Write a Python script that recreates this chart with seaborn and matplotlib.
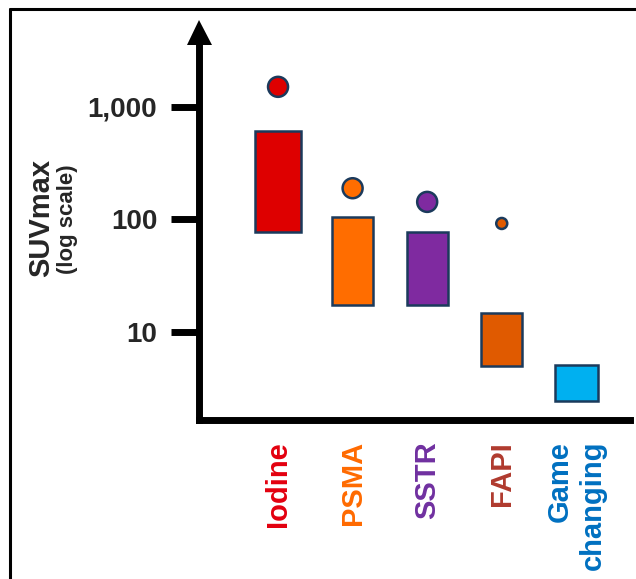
import matplotlib
matplotlib.use("Agg")
import matplotlib.pyplot as plt
from matplotlib.lines import Line2D
import seaborn as sns

# data (SUVmax, log scale)
categories = ["Iodine", "PSMA", "SSTR", "FAPI", "Game\nchanging"]
box_low = [77, 17.4, 17.4, 5.0, 2.46]
box_high = [612, 104, 78, 14.9, 5.1]
dot_categories = ["Iodine", "PSMA", "SSTR", "FAPI"]
dot_values = [1500, 189, 143, 92]
y_ticks = [10, 100, 1000]
y_tick_labels = ["10", "100", "1,000"]

# styles
bar_colors = ["#DE0000", "#FF6D00", "#7F2AA0", "#E05A00", "#00B0F0"]
bar_widths = [0.62, 0.55, 0.55, 0.55, 0.58]
dot_colors = ["#DE0000", "#FF6D00", "#7F2AA0", "#E05A00"]
label_colors = ["#E3000F", "#FF6A00", "#7030A0", "#B03A2E", "#0070C0"]
dot_px = [20, 20, 20, 11]
edge = "#1B3A5C"

sns.set_style("white")
plt.rcParams["font.family"] = ["Liberation Sans", "DejaVu Sans"]
plt.rcParams["font.weight"] = "bold"

W, H = 636, 579
fig = plt.figure(figsize=(W / 100, H / 100), dpi=100)
ax = fig.add_axes([199 / W, 1 - 420 / H, (630 - 199) / W, (420 - 35) / H])

heights = [h - l for h, l in zip(box_high, box_low)]
sns.barplot(x=categories, y=heights, bottom=box_low, order=categories,
            width=0.56, errorbar=None, color=bar_colors[0],
            edgecolor=edge, linewidth=1.8, ax=ax)
for patch, c, w in zip(ax.patches, bar_colors, bar_widths):
    center = patch.get_x() + patch.get_width() / 2
    patch.set_width(w)
    patch.set_x(center - w / 2)
    patch.set_facecolor(c)

sns.scatterplot(x=dot_categories, y=dot_values, hue=dot_categories,
                palette=dot_colors, s=[(d * 0.72) ** 2 for d in dot_px],
                edgecolor=edge, linewidth=1.8, legend=False, ax=ax, zorder=3)

ax.set_yscale("log")
ax.set_ylim(1.66, 4325)
ax.set_xlim(-1.06, 4.72)
ax.set_yticks(y_ticks)
ax.set_yticklabels(y_tick_labels)
ax.yaxis.set_minor_locator(plt.NullLocator())
ax.set_xlabel("")
ax.set_ylabel("")

ax.tick_params(axis="y", left=True, length=20, width=5, pad=10,
               labelsize=20, color="black")
ax.tick_params(axis="x", bottom=False, length=0, pad=15, labelsize=21)
for lab, c in zip(ax.get_xticklabels(), label_colors):
    lab.set_color(c)
    lab.set_rotation(90)
    lab.set_multialignment("right")
    lab.set_linespacing(1.25)

sns.despine(ax=ax)
for side in ["left", "bottom"]:
    ax.spines[side].set_linewidth(5)
    ax.spines[side].set_color("black")
    ax.spines[side].set_capstyle("projecting")

# arrow head on the y axis
ax.plot([0], [1.0078], marker="^", markersize=18, markeredgewidth=0,
        color="black", transform=ax.transAxes, clip_on=False)

fig.text(41 / W, 1 - 218 / H, "SUVmax", rotation=90, fontsize=21,
         fontweight="bold", ha="center", va="center")
fig.text(67 / W, 1 - 219 / H, "(log scale)", rotation=90, fontsize=16,
         fontweight="bold", ha="center", va="center")

# frame around the picture
fig.add_artist(Line2D([10 / W, 10 / W], [0, 1 - 8.5 / H], color="black", linewidth=2.2))
fig.add_artist(Line2D([10 / W, 1], [1 - 8.5 / H, 1 - 8.5 / H], color="black", linewidth=2.2))

fig.savefig("out.png", dpi=100)
plt.close(fig)
